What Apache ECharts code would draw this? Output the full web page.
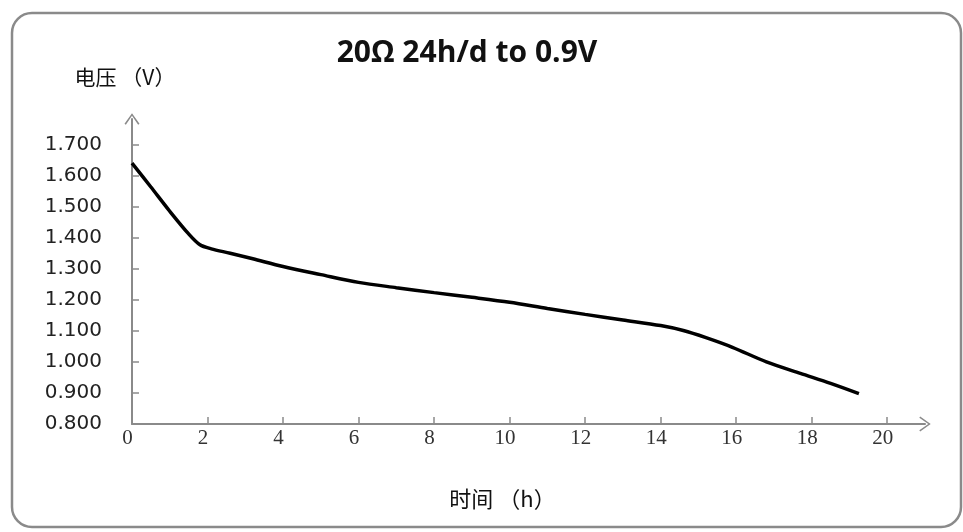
<!DOCTYPE html>
<html>
<head>
<meta charset="utf-8">
<script src="https://cdn.jsdelivr.net/npm/echarts@6/dist/echarts.min.js"></script>
<style>
html,body{margin:0;padding:0;background:#fff;}
#chart{width:963px;height:532px;}
</style>
</head>
<body>
<div id="chart"></div>
<script>
// Data
const titleText = '20Ω 24h/d to 0.9V';
const yAxisName = '电压 （V）';
const xAxisName = '时间 （h）';
const timeH = [0, 0.5, 1.0, 1.5, 1.8, 2.1, 2.6, 3.2, 4.0, 5.0, 6.0, 7.0, 8.0, 9.0, 10.0, 11.0, 12.0, 13.0, 14.0, 14.6, 15.2, 15.9, 16.8, 17.7, 18.5, 19.25];
const voltage = [1.640, 1.563, 1.485, 1.412, 1.377, 1.364, 1.350, 1.332, 1.307, 1.281, 1.256, 1.239, 1.223, 1.208, 1.192, 1.172, 1.153, 1.135, 1.117, 1.101, 1.078, 1.047, 1.000, 0.963, 0.931, 0.898];
const xTicks = [0, 2, 4, 6, 8, 10, 12, 14, 16, 18, 20];
const yTicks = [0.8, 0.9, 1.0, 1.1, 1.2, 1.3, 1.4, 1.5, 1.6, 1.7];

const chart = echarts.init(document.getElementById('chart'));
const chevron = 'path://M10,0 L20,14 L18.2,15.2 L10,3.2 L1.8,15.2 L0,14 Z';
const seriesData = timeH.map((t, i) => [t, voltage[i]]);

chart.setOption({
  animation: false,
  backgroundColor: '#fff',
  title: {
    text: titleText,
    left: 462,
    top: 33,
    textAlign: 'center',
    textStyle: { fontFamily: 'Open Sans', fontWeight: 'bold', fontSize: 30, color: '#111' }
  },
  graphic: [{
    type: 'rect',
    shape: { x: 12, y: 13, width: 949, height: 514, r: 20 },
    style: { fill: 'none', stroke: '#8a8a8a', lineWidth: 2.5 },
    silent: true
  }],
  grid: { left: 132, right: 38, top: 119, bottom: 108, containLabel: false },
  xAxis: {
    type: 'value',
    min: 0,
    max: 21,
    interval: 2,
    name: xAxisName,
    nameLocation: 'middle',
    nameGap: 64,
    nameTextStyle: { fontFamily: 'Noto Sans CJK SC', fontSize: 22, color: '#111', padding: [0, 52, 0, 0] },
    axisLine: { show: true, lineStyle: { color: '#8a8a8a', width: 2 }, symbol: ['none', chevron], symbolSize: [15, 14], symbolOffset: [0, 0] },
    axisTick: { show: true, inside: true, length: 7, lineStyle: { color: '#8a8a8a', width: 1.5 }, customValues: xTicks },
    axisLabel: {
      customValues: xTicks,
      margin: 4,
      fontFamily: 'Liberation Serif', fontSize: 21, color: '#333',
      padding: [0, 9, 0, 0]
    },
    splitLine: { show: false }
  },
  yAxis: {
    type: 'value',
    min: 0.8,
    max: 1.782,
    interval: 0.1,
    name: yAxisName,
    nameLocation: 'end',
    nameGap: 42,
    nameTextStyle: { fontFamily: 'Noto Sans CJK SC', fontSize: 21, color: '#111', align: 'center', verticalAlign: 'middle', padding: [0, 14, 0, 0] },
    axisLine: { show: true, lineStyle: { color: '#8a8a8a', width: 2 }, symbol: ['none', chevron], symbolSize: [15, 14] },
    axisTick: { show: true, inside: true, length: 7, lineStyle: { color: '#8a8a8a', width: 1.5 }, customValues: yTicks },
    axisLabel: {
      customValues: yTicks,
      margin: 30,
      fontFamily: 'DejaVu Sans', fontSize: 20, color: '#222',
      formatter: v => v.toFixed(3)
    },
    splitLine: { show: false }
  },
  series: [{
    type: 'line',
    data: seriesData,
    smooth: 0.3,
    showSymbol: false,
    lineStyle: { color: '#000', width: 3.5 }
  }]
});
</script>
</body>
</html>
